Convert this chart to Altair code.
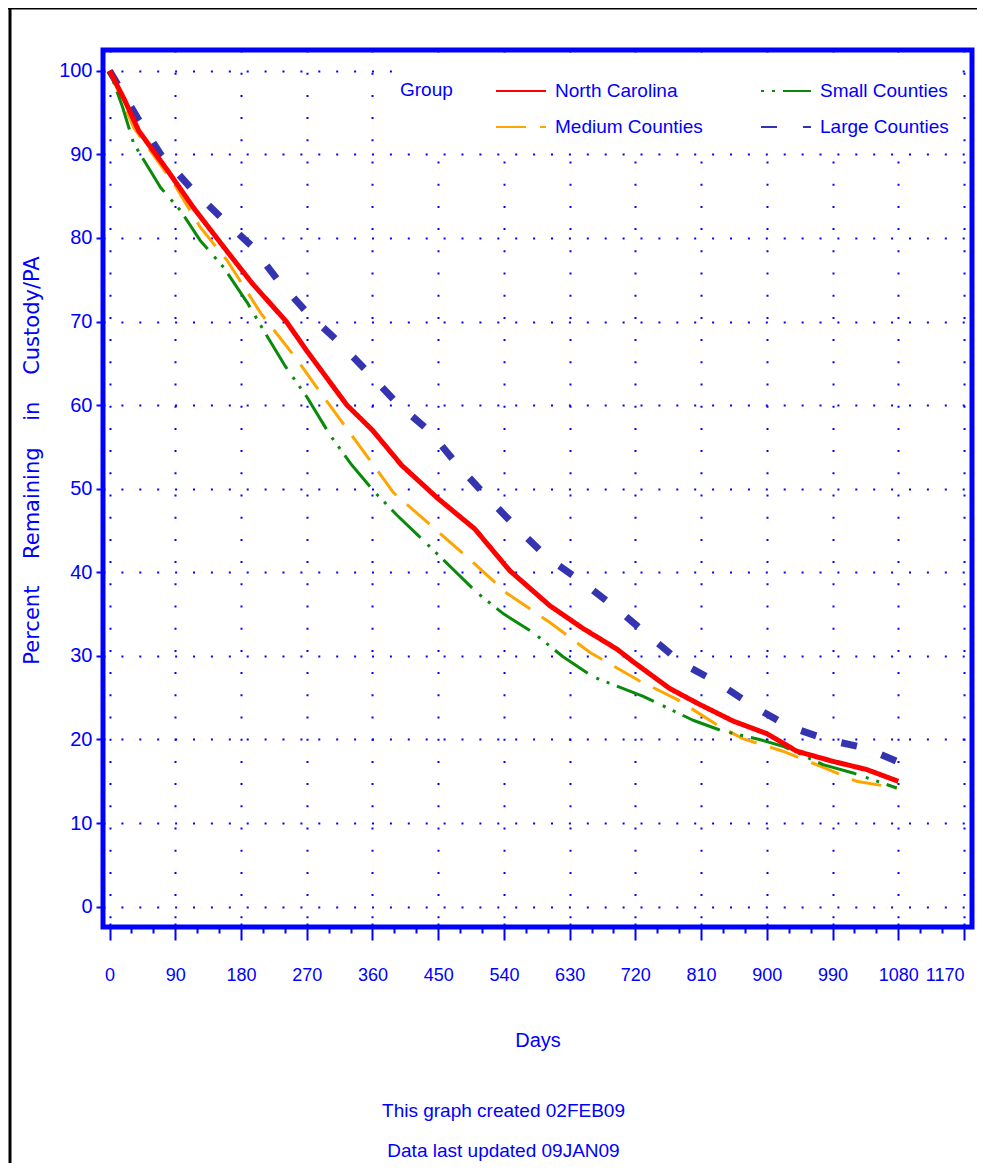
import altair as alt
import pandas as pd

BLUE = "#0000ff"
NARROW = "Liberation Sans, Arial, sans-serif"
WIDE = "DejaVu Sans, Verdana, sans-serif"

groups = ["North Carolina", "Small Counties", "Medium Counties", "Large Counties"]
group_colors = ["#ff0000", "#0a8a0a", "#ffa500", "#3434b0"]
group_dash = [[1, 0], [3, 8, 3, 8, 40, 10], [30, 14], [16, 26]]

nc_days = [0, 20, 40, 80, 115, 160, 195, 242, 270, 325, 360, 400, 450, 500, 548, 603, 648, 695, 717, 767, 808, 854, 900, 941, 990, 1037, 1080]
nc_pct = [100, 96.6, 92.8, 88.0, 83.6, 78.5, 74.6, 70.0, 66.5, 60.0, 57.0, 52.8, 48.8, 45.2, 40.2, 36.0, 33.3, 30.8, 29.3, 26.1, 24.2, 22.2, 20.7, 18.6, 17.4, 16.4, 15.0]

large_days = [0, 38, 70, 111, 152, 195, 231, 270, 312, 353, 394, 439, 477, 517, 558, 599, 648, 695, 740, 784, 833, 881, 929, 982, 1034, 1078]
large_pct = [100, 94.4, 90.0, 86.0, 82.5, 79.0, 74.9, 71.1, 67.7, 64.0, 60.2, 56.8, 52.8, 49.0, 45.3, 41.8, 38.8, 35.6, 32.3, 29.1, 26.8, 24.0, 21.6, 20.0, 19.0, 17.4]

medium_days = [0, 33, 88, 124, 161, 207, 257, 293, 339, 389, 435, 490, 544, 603, 658, 726, 777, 831, 867, 922, 968, 1023, 1078]
medium_pct = [100, 93.2, 86.5, 81.3, 77.3, 71.0, 65.4, 61.0, 55.5, 49.5, 46.0, 41.8, 37.5, 34.0, 30.4, 27.0, 24.8, 21.8, 20.1, 18.6, 17.0, 15.0, 14.2]

small_days = [0, 18, 33, 70, 97, 124, 156, 189, 216, 241, 270, 302, 332, 364, 394, 437, 471, 504, 540, 580, 621, 662, 730, 799, 840, 890, 922, 977, 1018, 1078]
small_pct = [100, 95.6, 91.3, 86.0, 83.3, 79.7, 76.5, 72.2, 68.2, 64.6, 61.0, 56.4, 52.8, 49.5, 46.8, 43.2, 40.3, 37.5, 35.0, 32.8, 29.9, 27.5, 25.2, 22.3, 21.0, 20.0, 19.2, 17.0, 16.0, 14.2]

x_ticks = list(range(0, 1171, 90))
x_minor = [d for d in range(30, 1171, 30) if d % 90 != 0]
y_ticks = list(range(0, 101, 10))
footnotes = ["This graph created 02FEB09", "Data last updated 09JAN09"]

series = [("Large Counties", large_days, large_pct, 7),
          ("Medium Counties", medium_days, medium_pct, 3),
          ("Small Counties", small_days, small_pct, 3),
          ("North Carolina", nc_days, nc_pct, 5)]

rows = []
for g, ds, ps, _ in series:
    for d, p in zip(ds, ps):
        rows.append({"group": g, "days": d, "pct": p})
df = pd.DataFrame(rows)

W, H = 869, 877
x_scale = alt.Scale(domain=[-9.0, 1181], nice=False, zero=False)
y_scale = alt.Scale(domain=[-2.43, 102.48], nice=False, zero=False)

legend = alt.Legend(
    title="Group", orient="none", legendX=291, legendY=9, columns=2,
    direction="horizontal", titleOrient="left", titleAnchor="start", titleBaseline="line-top",
    titleLineHeight=50,
    titlePadding=42, columnPadding=54, rowPadding=0, padding=6, fillColor="white",
    symbolType="stroke", symbolSize=2500, symbolStrokeWidth=2,
    labelFont=NARROW, labelFontSize=19, labelColor=BLUE, labelOffset=8, labelLimit=300,
    titleFont=NARROW, titleFontSize=19, titleColor=BLUE, titleFontWeight="normal",
)

x_axis = alt.Axis(
    values=x_ticks, format="d", orient="bottom", offset=-4, tickSize=17, tickWidth=2, tickColor=BLUE,
    labelColor=BLUE, labelFont=NARROW, labelFontSize=18, labelFontWeight="normal", labelPadding=26,
    labelAlign={"condition": {"test": "datum.value >= 1170", "value": "right"}, "value": "center"},
    labelFlush=False, labelOverlap=False, domain=False,
    grid=True, gridColor=BLUE, gridDash=[2, 20.2], gridWidth=2,
    title="Days", titleFont=NARROW, titleFontSize=20, titleFontWeight="normal",
    titleColor=BLUE, titleY=117, titleBaseline="middle",
)
y_axis = alt.Axis(
    values=y_ticks, format="d", tickSize=7, tickWidth=2, tickColor=BLUE,
    labelColor=BLUE, labelFont=NARROW, labelFontSize=20, labelPadding=4,
    domain=False, grid=True, gridColor=BLUE, gridDash=[2, 15.9], gridWidth=2,
    title="Percent\u00a0\u00a0\u00a0\u00a0Remaining\u00a0\u00a0\u00a0\u00a0in\u00a0\u00a0\u00a0\u00a0Custody/PA",
    titleFont=WIDE, titleFontSize=21, titleFontWeight="normal", titleColor=BLUE,
    titleAngle=270, titleX=-71, titleY=410, titleAlign="center", titleBaseline="middle",
)

base = alt.Chart(df).encode(
    x=alt.X("days:Q", scale=x_scale, axis=x_axis),
    y=alt.Y("pct:Q", scale=y_scale, axis=y_axis),
    color=alt.Color("group:N", scale=alt.Scale(domain=groups, range=group_colors), legend=legend),
    strokeDash=alt.StrokeDash("group:N", scale=alt.Scale(domain=groups, range=group_dash), legend=legend),
    order="days:Q",
)
lines = alt.layer(*[
    base.transform_filter(alt.datum.group == g).mark_line(strokeWidth=w, strokeCap="butt", strokeJoin="round")
    for g, _, _, w in series
])

minor = alt.Chart(pd.DataFrame({"days": x_minor})).mark_point(opacity=0).encode(
    x=alt.X("days:Q", scale=x_scale, axis=alt.Axis(
        values=x_minor, orient="bottom", offset=0, tickSize=6, tickWidth=2, tickColor=BLUE,
        labels=False, domain=False, grid=False, title=None)),
)

one = pd.DataFrame({"k": [0]})
border = alt.Chart(one).mark_rect(fill=None, stroke=BLUE, strokeWidth=5).encode(
    x=alt.value(0), x2=alt.value(W), y=alt.value(0), y2=alt.value(H),
)
frame = alt.Chart(one).mark_rule(color="black", strokeWidth=3).encode(
    x=alt.value(-93), y=alt.value(-42), y2=alt.value(1122),
)
frame_top = alt.Chart(one).mark_rule(color="black", strokeWidth=3).encode(
    x=alt.value(-95), x2=alt.value(880), y=alt.value(-42),
)

chart = alt.layer(frame, frame_top, minor, lines, border).resolve_axis(x="independent").properties(
    width=W, height=H,
    autosize=alt.AutoSizeParams(type="none"),
    padding={"left": 95, "top": 42, "right": 5, "bottom": 236},
    title=alt.TitleParams(
        text=footnotes,
        orient="bottom", anchor="middle", frame="group", offset=-72, dx=-34,
        font=NARROW, fontSize=19, fontWeight="normal", color=BLUE, lineHeight=40,
    ),
).configure_view(
    fill="#ececec", stroke=None,
).configure(background="white")

chart.save("out.html", embed_options={"renderer": "svg", "actions": False})
